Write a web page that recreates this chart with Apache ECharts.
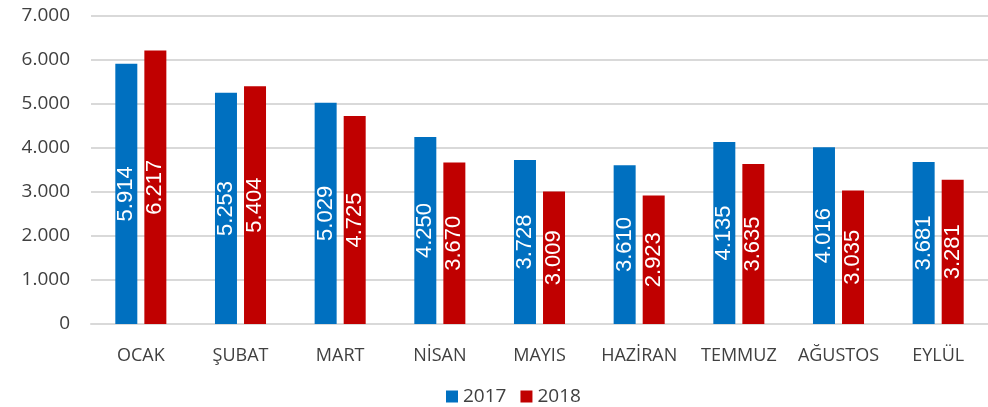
<!DOCTYPE html>
<html>
<head>
<meta charset="utf-8">
<script src="https://cdn.jsdelivr.net/npm/echarts@6/dist/echarts.min.js"></script>
<style>html,body{margin:0;padding:0;background:#fff;}#c{width:988px;height:407px;}</style>
</head>
<body>
<div id="c"></div>
<script>
const categories = ['OCAK', 'ŞUBAT', 'MART', 'NİSAN', 'MAYIS', 'HAZİRAN', 'TEMMUZ', 'AĞUSTOS', 'EYLÜL'];
const values2017 = [5914, 5253, 5029, 4250, 3728, 3610, 4135, 4016, 3681];
const values2018 = [6217, 5404, 4725, 3670, 3009, 2923, 3635, 3035, 3281];
const seriesNames = ['2017', '2018'];

function fmt(v) {
  return String(v).replace(/\B(?=(\d{3})+(?!\d))/g, '.');
}

const chart = echarts.init(document.getElementById('c'), null, {renderer: 'canvas'});
const labelCfg = {
  show: true,
  position: 'inside',
  rotate: 90,
  color: '#ffffff',
  fontFamily: 'Liberation Sans',
  fontSize: 22,
  formatter: p => fmt(p.value)
};
chart.setOption({
  animation: false,
  grid: {left: 91, right: -5, top: 16, bottom: 83, containLabel: false},
  legend: {
    data: seriesNames,
    top: 387,
    left: 446,
    padding: 0,
    itemWidth: 12,
    itemHeight: 12,
    itemGap: 14,
    icon: 'rect',
    textStyle: {color: '#404040', fontFamily: 'Open Sans', fontSize: 19}
  },
  xAxis: {
    type: 'category',
    data: categories,
    axisLine: {show: true, lineStyle: {color: '#D9D9D9', width: 2}},
    axisTick: {show: false},
    axisLabel: {color: '#404040', fontFamily: 'Open Sans', fontSize: 18, margin: 23, interval: 0}
  },
  yAxis: {
    type: 'value',
    min: 0,
    max: 7000,
    interval: 1000,
    axisLine: {show: false},
    axisTick: {show: false},
    splitLine: {lineStyle: {color: '#D9D9D9', width: 2}},
    axisLabel: {color: '#404040', fontFamily: 'Open Sans', fontSize: 19, margin: 21, formatter: v => fmt(v)}
  },
  series: [
    {name: seriesNames[0], type: 'bar', data: values2017, barWidth: 22, barGap: '32%',
     itemStyle: {color: '#0070C0'}, label: labelCfg},
    {name: seriesNames[1], type: 'bar', data: values2018, barWidth: 22,
     itemStyle: {color: '#C00000'}, label: labelCfg}
  ]
});
</script>
</body>
</html>
